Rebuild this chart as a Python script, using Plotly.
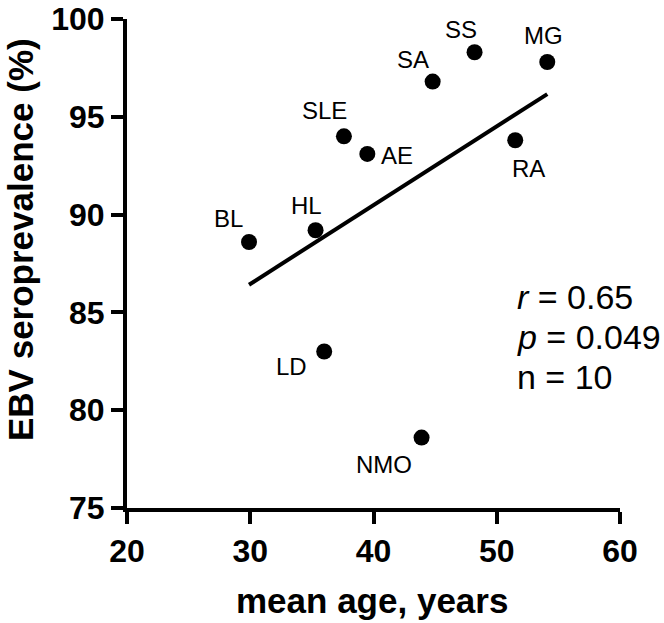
import numpy as np
import plotly.graph_objects as go

# Data
labels = ["BL", "HL", "SLE", "AE", "SA", "SS", "MG", "RA", "LD", "NMO"]
mean_age = [29.9, 35.3, 37.6, 39.5, 44.8, 48.2, 54.1, 51.5, 36.0, 43.9]
ebv_sero = [88.6, 89.2, 94.0, 93.1, 96.8, 98.3, 97.8, 93.8, 83.0, 78.6]
x_ticks = [20, 30, 40, 50, 60]
y_ticks = [75, 80, 85, 90, 95, 100]
stats_lines = ["<i>r</i> = 0.65", "<i>p</i> = 0.049", "n = 10"]

# label pixel offsets (x, y-up)
label_shift = {
    "BL": (-21, 23), "HL": (-9, 25), "SLE": (-19, 26), "AE": (30, -2),
    "SA": (-20, 22), "SS": (-14, 23), "MG": (-4, 27), "RA": (13, -28),
    "LD": (-33, -15), "NMO": (-38, -27),
}

# regression line over data range
slope, intercept = np.polyfit(mean_age, ebv_sero, 1)
xl = np.array([min(mean_age), max(mean_age)])
yl = slope * xl + intercept

FONT = "Liberation Sans, Arial, sans-serif"
L, R, T, B = 127, 44, 19, 115
W, H = 664, 623
pw, ph = W - L - R, H - T - B

fig = go.Figure()
fig.add_trace(go.Scatter(x=xl, y=yl, mode="lines",
                         line=dict(color="black", width=4), showlegend=False))
fig.add_trace(go.Scatter(x=mean_age, y=ebv_sero, mode="markers",
                         marker=dict(color="black", size=16), showlegend=False))

for lab, xv, yv in zip(labels, mean_age, ebv_sero):
    dx, dy = label_shift[lab]
    fig.add_annotation(x=xv, y=yv, text=lab, showarrow=False,
                       xshift=dx, yshift=dy,
                       font=dict(family=FONT, size=24, color="black"))

for i, t in enumerate(stats_lines):
    fig.add_annotation(x=(515 - L) / pw, y=1 - (297 + 40 * i - T) / ph,
                       xref="x domain", yref="y domain",
                       text=t, showarrow=False, xanchor="left", yanchor="middle",
                       font=dict(family=FONT, size=34, color="black"))

# axis titles as annotations
fig.add_annotation(x=(20 - L) / pw, y=1 - (240 - T) / ph, xref="paper", yref="paper",
                   text="EBV seroprevalence (%)", textangle=-90, showarrow=False,
                   xanchor="center", yanchor="middle",
                   font=dict(family=FONT, size=35, color="black", weight="bold"))
fig.add_annotation(x=(372 - L) / pw, y=1 - (600 - T) / ph, xref="paper", yref="paper",
                   text="mean age, years", showarrow=False,
                   xanchor="center", yanchor="middle",
                   font=dict(family=FONT, size=35, color="black", weight="bold"))

axis_common = dict(showline=True, linewidth=4, linecolor="black",
                   ticks="outside", ticklen=12, tickwidth=4, tickcolor="black",
                   showgrid=False, zeroline=False, ticklabeloverflow="allow",
                   automargin=False,
                   tickfont=dict(family=FONT, size=32, color="black", weight="bold"))

fig.update_xaxes(range=[20, 60], tickvals=x_ticks, **axis_common)
fig.update_yaxes(range=[75, 100], tickvals=y_ticks, **axis_common)

fig.update_layout(width=W, height=H, margin=dict(l=L, r=R, t=T, b=B),
                  plot_bgcolor="white", paper_bgcolor="white")

fig.write_html("out.html")
